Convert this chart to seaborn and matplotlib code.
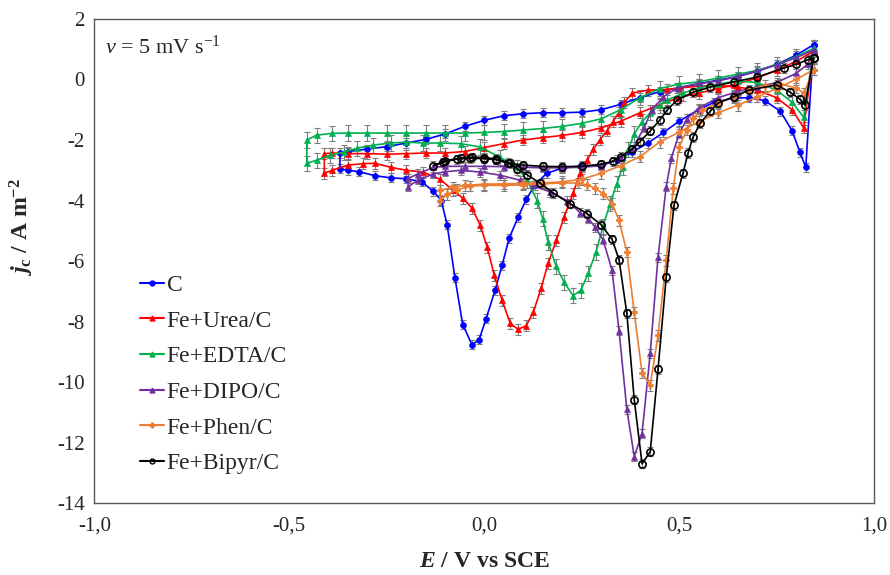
import numpy as np
import pandas as pd
import matplotlib
matplotlib.use("Agg")
import matplotlib.pyplot as plt
import seaborn as sns
from matplotlib.lines import Line2D

# cyclic voltammograms: (E / V vs SCE, j_c / A m-2), one closed loop each
c_pts = [(0.845, 1.15), (0.80, 0.8), (0.75, 0.5), (0.70, 0.27), (0.65, 0.1), (0.60, -0.02), (0.55, -0.15),
         (0.50, -0.27), (0.45, -0.4), (0.40, -0.6), (0.35, -0.82), (0.30, -1.0), (0.25, -1.08), (0.20, -1.1),
         (0.15, -1.1), (0.10, -1.13), (0.05, -1.2), (0.00, -1.35), (-0.05, -1.55), (-0.10, -1.8), (-0.15, -1.98),
         (-0.20, -2.1), (-0.25, -2.22), (-0.30, -2.3), (-0.35, -2.38), (-0.37, -2.43), (-0.37, -2.95),
         (-0.35, -3.0), (-0.32, -3.05), (-0.28, -3.18), (-0.24, -3.25), (-0.20, -3.28), (-0.16, -3.38),
         (-0.13, -3.7), (-0.11, -4.0), (-0.095, -4.8), (-0.075, -6.55), (-0.055, -8.1), (-0.031, -8.77),
         (-0.013, -8.6), (0.005, -7.9), (0.028, -6.97), (0.046, -6.14), (0.064, -5.25), (0.087, -4.55),
         (0.108, -3.96), (0.13, -3.5), (0.16, -3.1), (0.20, -2.93), (0.25, -2.85), (0.30, -2.85), (0.34, -2.66),
         (0.38, -2.4), (0.42, -2.1), (0.46, -1.75), (0.50, -1.38), (0.55, -1.0), (0.59, -0.75), (0.64, -0.62),
         (0.68, -0.6), (0.72, -0.7), (0.76, -1.05), (0.79, -1.7), (0.81, -2.4), (0.825, -2.9), (0.845, 1.15)]

urea_pts = [(0.845, 0.93), (0.80, 0.6), (0.75, 0.3), (0.70, 0.05), (0.64, -0.18), (0.60, -0.3), (0.55, -0.45),
            (0.50, -0.6), (0.45, -0.83), (0.40, -1.1), (0.35, -1.38), (0.30, -1.6), (0.25, -1.75), (0.20, -1.85),
            (0.15, -1.92), (0.10, -2.0), (0.05, -2.12), (0.00, -2.25), (-0.05, -2.38), (-0.10, -2.43),
            (-0.15, -2.43), (-0.20, -2.45), (-0.25, -2.47), (-0.30, -2.45), (-0.35, -2.45), (-0.39, -2.43),
            (-0.41, -2.45), (-0.41, -3.1), (-0.39, -3.0), (-0.35, -2.83), (-0.31, -2.78), (-0.28, -2.77),
            (-0.24, -2.9), (-0.20, -3.0), (-0.156, -3.06), (-0.113, -3.3), (-0.08, -3.66), (-0.054, -3.93),
            (-0.031, -4.25), (-0.01, -4.82), (0.008, -5.55), (0.026, -6.47), (0.046, -7.3), (0.067, -8.06),
            (0.087, -8.26), (0.108, -8.13), (0.126, -7.7), (0.146, -6.9), (0.164, -6.08), (0.185, -5.32),
            (0.205, -4.55), (0.228, -3.76), (0.246, -3.1), (0.264, -2.67), (0.28, -2.3), (0.297, -2.0),
            (0.315, -1.7), (0.33, -1.4), (0.345, -1.1), (0.36, -0.75), (0.38, -0.45), (0.42, -0.35), (0.47, -0.33),
            (0.50, -0.28), (0.55, -0.22), (0.60, -0.2), (0.65, -0.25), (0.70, -0.35), (0.75, -0.6), (0.79, -1.0),
            (0.82, -1.6), (0.845, 0.93)]

edta_pts = [(0.845, 1.03), (0.80, 0.75), (0.75, 0.5), (0.70, 0.3), (0.65, 0.17), (0.60, 0.05), (0.55, -0.08),
            (0.50, -0.15), (0.45, -0.3), (0.40, -0.6), (0.35, -1.0), (0.30, -1.3), (0.25, -1.45), (0.20, -1.55),
            (0.15, -1.62), (0.10, -1.67), (0.05, -1.72), (0.00, -1.75), (-0.05, -1.77), (-0.10, -1.77),
            (-0.15, -1.77), (-0.20, -1.77), (-0.25, -1.77), (-0.30, -1.77), (-0.35, -1.77), (-0.39, -1.78),
            (-0.43, -1.84), (-0.455, -2.0), (-0.455, -2.77), (-0.43, -2.67), (-0.395, -2.5), (-0.36, -2.4),
            (-0.326, -2.27), (-0.285, -2.17), (-0.24, -2.1), (-0.20, -2.07), (-0.156, -2.1), (-0.113, -2.1),
            (-0.06, -2.12), (-0.01, -2.23), (0.04, -2.57), (0.085, -2.9), (0.11, -3.33), (0.136, -4.0),
            (0.15, -4.6), (0.164, -5.38), (0.185, -6.18), (0.205, -6.7), (0.228, -7.14), (0.248, -6.97),
            (0.267, -6.4), (0.287, -5.7), (0.305, -4.85), (0.323, -4.1), (0.34, -3.45), (0.355, -2.9),
            (0.37, -2.3), (0.385, -1.8), (0.405, -1.4), (0.426, -1.1), (0.45, -0.85), (0.47, -0.68), (0.51, -0.45),
            (0.55, -0.28), (0.60, -0.15), (0.65, -0.05), (0.70, -0.1), (0.75, -0.35), (0.79, -0.75), (0.82, -1.25),
            (0.845, 1.03)]

dipo_pts = [(0.845, 0.97), (0.80, 0.72), (0.75, 0.48), (0.70, 0.28), (0.65, 0.1), (0.60, -0.05), (0.55, -0.13),
            (0.495, -0.28), (0.46, -0.57), (0.43, -1.0), (0.41, -1.6), (0.38, -2.3), (0.35, -2.6), (0.30, -2.85),
            (0.25, -2.9), (0.20, -2.92), (0.15, -2.92), (0.10, -2.9), (0.05, -2.88), (0.00, -2.87), (-0.05, -2.87),
            (-0.10, -2.87), (-0.13, -2.9), (-0.17, -3.12), (-0.195, -3.27), (-0.195, -3.55), (-0.17, -3.32),
            (-0.13, -3.12), (-0.10, -3.05), (-0.06, -3.0), (-0.01, -3.06), (0.04, -3.16), (0.092, -3.33),
            (0.126, -3.5), (0.17, -3.72), (0.213, -4.0), (0.246, -4.4), (0.267, -4.6), (0.285, -4.88), (0.305, -5.3),
            (0.328, -6.3), (0.346, -8.3), (0.366, -10.9), (0.385, -12.46), (0.405, -11.7), (0.426, -9.05),
            (0.446, -5.87), (0.467, -3.55), (0.48, -2.6), (0.50, -1.8), (0.52, -1.3), (0.55, -0.95), (0.60, -0.6),
            (0.65, -0.4), (0.70, -0.25), (0.75, -0.1), (0.80, 0.2), (0.83, 0.5), (0.845, 0.97)]

phen_pts = [(0.845, 0.32), (0.80, 0.0), (0.75, -0.3), (0.70, -0.58), (0.65, -0.85), (0.60, -1.1), (0.55, -1.4),
            (0.50, -1.74), (0.45, -2.07), (0.40, -2.55), (0.35, -2.85), (0.30, -3.1), (0.25, -3.3), (0.20, -3.38),
            (0.15, -3.42), (0.10, -3.43), (0.05, -3.45), (0.00, -3.46), (-0.05, -3.5), (-0.08, -3.56),
            (-0.113, -3.66), (-0.113, -4.0), (-0.095, -3.8), (-0.07, -3.65), (-0.036, -3.52), (0.00, -3.5),
            (0.05, -3.5), (0.10, -3.48), (0.15, -3.45), (0.20, -3.42), (0.24, -3.42), (0.265, -3.48), (0.285, -3.6),
            (0.305, -3.77), (0.328, -4.1), (0.346, -4.65), (0.366, -5.7), (0.385, -7.7), (0.405, -9.7),
            (0.426, -10.1), (0.446, -8.46), (0.467, -5.97), (0.485, -3.6), (0.50, -2.23), (0.52, -1.67),
            (0.536, -1.28), (0.56, -1.0), (0.60, -0.78), (0.64, -0.57), (0.68, -0.35), (0.72, -0.2), (0.76, -0.15),
            (0.80, -0.28), (0.82, -0.45), (0.845, 0.32)]

bipyr_pts = [(0.845, 0.7), (0.83, 0.65), (0.80, 0.5), (0.77, 0.38), (0.70, 0.08), (0.64, -0.08), (0.58, -0.25),
             (0.536, -0.42), (0.495, -0.68), (0.47, -1.0), (0.45, -1.35), (0.426, -1.7), (0.40, -2.05), (0.38, -2.3),
             (0.35, -2.55), (0.33, -2.7), (0.30, -2.8), (0.25, -2.87), (0.20, -2.88), (0.15, -2.87), (0.10, -2.83),
             (0.067, -2.77), (0.03, -2.65), (0.00, -2.62), (-0.036, -2.6), (-0.07, -2.63), (-0.105, -2.73),
             (-0.13, -2.85), (-0.10, -2.68), (-0.06, -2.6), (-0.03, -2.57), (0.00, -2.58), (0.03, -2.62),
             (0.06, -2.75), (0.085, -2.95), (0.11, -3.15), (0.144, -3.43), (0.177, -3.75), (0.22, -4.1),
             (0.264, -4.43), (0.30, -4.8), (0.328, -5.28), (0.346, -5.95), (0.366, -7.73), (0.385, -10.58),
             (0.405, -12.7), (0.426, -12.3), (0.446, -9.58), (0.467, -6.54), (0.487, -4.16), (0.51, -3.1),
             (0.523, -2.43), (0.536, -1.9), (0.554, -1.45), (0.58, -1.05), (0.60, -0.78), (0.64, -0.57),
             (0.68, -0.35), (0.75, -0.18), (0.785, -0.42), (0.81, -0.65), (0.823, -0.85), (0.845, 0.7)]

labels = ["C", "Fe+Urea/C", "Fe+EDTA/C", "Fe+DIPO/C", "Fe+Phen/C", "Fe+Bipyr/C"]
# approximate size of the grey error bars for each sample
errs = [0.15, 0.18, 0.25, 0.15, 0.18, 0.15]
x_ticks = [-1.0, -0.5, 0.0, 0.5, 1.0]
x_ticklabels = ["-1,0", "-0,5", "0,0", "0,5", "1,0"]
y_ticks = [2, 0, -2, -4, -6, -8, -10, -12, -14]

colors = ["#0000FF", "#FF0000", "#00B050", "#7030A0", "#ED7D31", "#000000"]
markers = ["o", "^", "^", "^", "P", "o"]
msizes = [4.2, 4.8, 4.8, 4.8, 4.8, 5.2]

sns.set_style("white")
plt.rcParams["font.family"] = ["Liberation Serif", "DejaVu Serif"]
plt.rcParams["axes.unicode_minus"] = False
plt.rcParams["mathtext.fontset"] = "custom"
plt.rcParams["mathtext.rm"] = "Liberation Serif"
plt.rcParams["mathtext.it"] = "Liberation Serif:italic"
plt.rcParams["mathtext.bf"] = "Liberation Serif:bold"
plt.rcParams["mathtext.bfit"] = "Liberation Serif:bold:italic"

fig = plt.figure(figsize=(8.9, 5.75), dpi=100)
ax = fig.add_axes([0.106, 0.125, 0.876, 0.842])

all_pts = [c_pts, urea_pts, edta_pts, dipo_pts, phen_pts, bipyr_pts]
handles = []
for pts, lab, col, mk, ms, er in zip(all_pts, labels, colors, markers, msizes, errs):
    df = pd.DataFrame(pts, columns=["E", "j"])
    ax.errorbar(df["E"], df["j"], yerr=er, fmt="none", ecolor="#7f7f7f",
                elinewidth=0.8, capsize=2.5, capthick=0.8, zorder=1)
    mfc = "none" if col == "#000000" else col
    sns.lineplot(data=df, x="E", y="j", sort=False, estimator=None, ax=ax, color=col,
                 marker=mk, markersize=ms, markerfacecolor=mfc, markeredgecolor=col,
                 markeredgewidth=1.2 if mfc == "none" else 0.5, linewidth=1.2, zorder=2)
    handles.append(Line2D([], [], color=col, marker=mk, markersize=3.5, markerfacecolor=mfc,
                          markeredgecolor=col, markeredgewidth=1.0, linewidth=1.5, label=lab))

ax.set_xlim(-1.0, 1.0)
ax.set_ylim(-14, 2)
ax.set_xticks(x_ticks)
ax.set_xticklabels(x_ticklabels)
ax.set_yticks(y_ticks)
ax.tick_params(direction="in", length=5, width=0.8, color="#595959", labelsize=15)
ax.tick_params(axis="x", pad=10)
ax.tick_params(axis="y", pad=7)
for sp in ax.spines.values():
    sp.set_color("#595959")
    sp.set_linewidth(1.0)

ax.set_xlabel(r"$\mathbfit{E}$ / V vs SCE", fontsize=17, fontweight="bold", labelpad=11)
ax.set_ylabel(r"$\mathbfit{j}_\mathbf{c}$ / A m$^\mathbf{-2}$", fontsize=17, fontweight="bold")
ax.yaxis.set_label_coords(-0.075, 0.57)

ax.text(0.014, 0.965, r"$\mathit{v}$ = 5 mV s$^{-1}$", transform=ax.transAxes,
        fontsize=16, va="top", ha="left")

ax.legend(handles=handles, loc="upper left", bbox_to_anchor=(0.046, 0.492), frameon=False,
          fontsize=17, handlelength=1.05, handletextpad=0.1, labelspacing=0.6, borderaxespad=0.0)

fig.savefig("out.png", dpi=100)
